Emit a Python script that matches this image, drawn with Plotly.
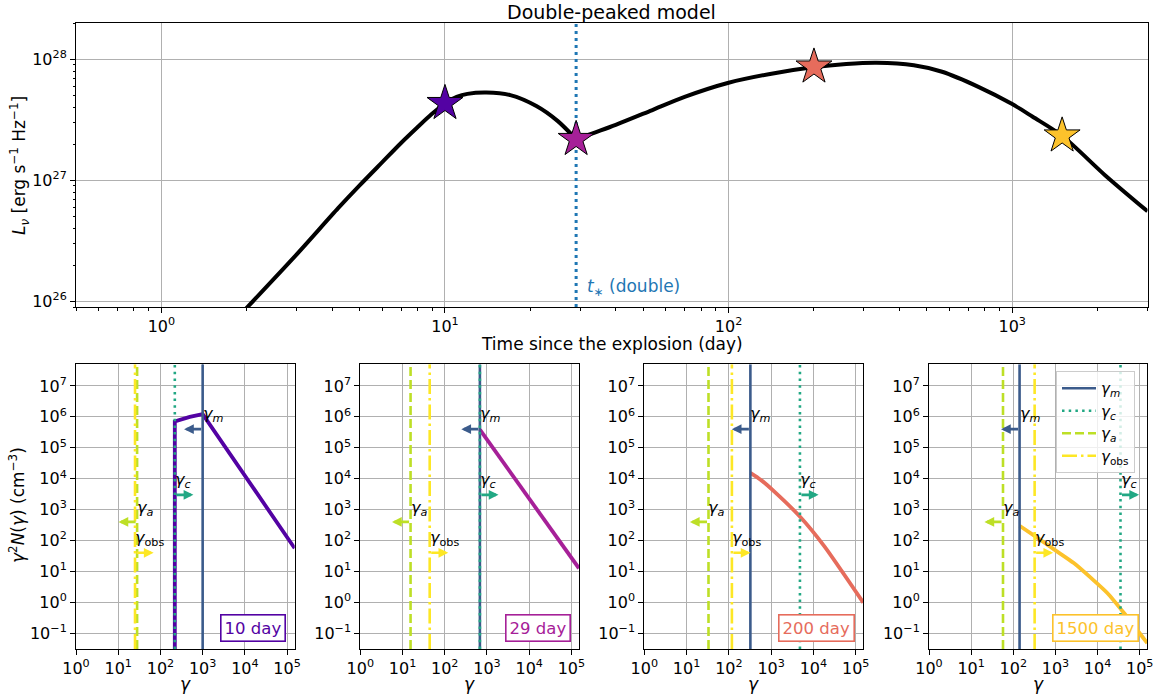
import numpy as np
import plotly.graph_objects as go

W, H = 1156, 698
FONT = "DejaVu Sans"

# ---------------- data: light curve (top panel) ----------------
t_first = [1.9, 3.0, 4.2, 5.0, 6.0, 7.0, 8.0, 9.0, 10.0, 11.0, 12.0, 14.0, 17.0, 21.0, 25.0, 29.0]
L_first = [7.8e25, 2.45e26, 5.9e26, 9.1e26, 1.41e27, 2.04e27, 2.75e27, 3.55e27, 4.34e27,
           4.9e27, 5.19e27, 5.33e27, 5.07e27, 4.12e27, 3.09e27, 2.19e27]
t_second = [29.0, 40.0, 53.6, 70.0, 100.0, 140.0, 198.0, 260.0, 333.0, 450.0, 566.0,
            760.0, 1000.0, 1181.0, 1500.0, 2130.0, 3000.0]
L_second = [2.19e27, 2.88e27, 3.80e27, 4.90e27, 6.41e27, 7.59e27, 8.61e27, 9.16e27, 9.38e27,
            8.95e27, 7.91e27, 5.94e27, 4.28e27, 3.36e27, 2.34e27, 1.10e27, 5.56e26]
t_star_double = 29.0

# epochs marked with stars
days = [10, 29, 200, 1500]
L_days = [4.34e27, 2.19e27, 8.69e27, 2.34e27]
day_colors = ["#5302a3", "#a62098", "#e66c5c", "#fcc22b"]

# characteristic Lorentz factors at each epoch
gamma_m = [1000, 680, 323, 141]
gamma_c = [219, 680, 4800, 35000]
gamma_a = [28, 15.5, 33, 57]
gamma_obs = [25, 44, 118, 321]

# electron distributions gamma^2 N(gamma)
dist_gamma = [
    [219, 219, 495, 1000, 1.51e5],
    [680, 1.51e5],
    [323, 562, 1175, 4900, 1.82e4, 1.51e5],
    [141, 398, 1000, 2730, 7080, 1.70e4, 4.23e4, 1.51e5],
]
dist_N = [
    [1e-2, 7.14e5, 9.93e5, 1.23e6, 56],
    [3.85e5, 12.6],
    [1.55e4, 9.3e3, 3.89e3, 575, 64.6, 0.98],
    [301, 115, 47.9, 18.6, 6.03, 2.0, 0.451, 0.0479],
]
dist_shape = ["linear", "linear", "spline", "spline"]

# ---------------- layout geometry ----------------
def px_x(p):
    return p / W

def px_y(p):
    return 1 - p / H

TOP_X = [px_x(76), px_x(1147.5)]
TOP_Y = [px_y(307), px_y(23)]
BOT_Y = [px_y(649), px_y(364.3)]
PANEL_X = [(76, 294.7), (360.3, 579), (644.3, 863.3), (929, 1147.3)]

TOP_XR = [float(np.log10(0.5)), float(np.log10(3000))]
TOP_YR = [float(np.log10(9.0e25)), float(np.log10(2.0e28))]
BOT_XR = [0, 5.18]
BOT_YR = [-1.51, 7.70]

C_M = "#3b5b8b"
C_C = "#22a884"
C_A = "#bddf26"
C_OBS = "#fde725"

fig = go.Figure()


def sup_label(k):
    s = str(k).replace("-", "\u2212")
    return f"10<sup>{s}</sup>"


def minor_vals(lo, hi):
    vals = []
    for k in range(lo, hi + 1):
        for m in range(2, 10):
            vals.append(m * 10.0 ** k)
    return vals


def base_axis(size=16, **kw):
    d = dict(type="log", showline=True, linecolor="black", linewidth=1, mirror=True,
             ticks="outside", ticklen=5, tickwidth=1, tickcolor="black", automargin=False,
             showgrid=True, gridcolor="#b0b0b0", gridwidth=1, zeroline=False,
             tickfont=dict(size=size, color="black", family=FONT))
    d.update(kw)
    return d


# ---------------- top panel ----------------
fig.add_trace(go.Scatter(x=t_first, y=L_first, mode="lines",
                         line=dict(color="black", width=4, shape="spline", smoothing=0.8),
                         showlegend=False, xaxis="x", yaxis="y"))
fig.add_trace(go.Scatter(x=t_second, y=L_second, mode="lines",
                         line=dict(color="black", width=4, shape="spline", smoothing=0.8),
                         showlegend=False, xaxis="x", yaxis="y"))
fig.add_trace(go.Scatter(x=[t_star_double, t_star_double], y=[10.0 ** TOP_YR[0], 10.0 ** TOP_YR[1]], mode="lines",
                         line=dict(color="#1f77b4", width=3, dash="3px,4px"), showlegend=False,
                         xaxis="x", yaxis="y"))
fig.add_trace(go.Scatter(x=days, y=L_days, mode="markers",
                         marker=dict(symbol="star", size=27, color=day_colors, line=dict(color="black", width=1)),
                         showlegend=False, xaxis="x", yaxis="y"))

layout = dict(
    width=W, height=H, margin=dict(l=0, r=0, t=0, b=0, autoexpand=False),
    paper_bgcolor="white", plot_bgcolor="white",
    font=dict(family=FONT, color="black"),
    xaxis=base_axis(domain=TOP_X, anchor="y", range=TOP_XR,
                    tickvals=[10.0 ** k for k in range(0, 4)], ticktext=[sup_label(k) for k in range(0, 4)],
                    minor=dict(tickvals=minor_vals(-1, 3), ticks="outside", ticklen=2.5, tickcolor="black",
                               showgrid=False)),
    yaxis=base_axis(domain=TOP_Y, anchor="x", range=TOP_YR,
                    tickvals=[10.0 ** k for k in range(26, 29)], ticktext=[sup_label(k) for k in range(26, 29)],
                    minor=dict(tickvals=minor_vals(25, 28), ticks="outside", ticklen=2.5, tickcolor="black",
                               showgrid=False)),
    showlegend=True,
    legend=dict(x=px_x(1056), y=px_y(371), xanchor="left", yanchor="top",
                bgcolor="rgba(255,255,255,0.8)", bordercolor="#cccccc", borderwidth=1,
                font=dict(size=15, family=FONT), itemwidth=34, tracegroupgap=0),
)

annotations = []
annotations.append(dict(text="Double-peaked model", x=px_x(611.5), y=px_y(12), xref="paper", yref="paper",
                        showarrow=False, xanchor="center", yanchor="middle", font=dict(size=19)))
annotations.append(dict(text="Time since the explosion (day)", x=px_x(611.5), y=px_y(344), xref="paper",
                        yref="paper", showarrow=False, xanchor="center", yanchor="middle", font=dict(size=17)))
annotations.append(dict(text="<i>L</i><sub><i>ν</i></sub> [erg s<sup>\u22121</sup> Hz<sup>\u22121</sup>]",
                        x=px_x(20), y=px_y(166), xref="paper", yref="paper", showarrow=False, textangle=-90,
                        xanchor="center", yanchor="middle", font=dict(size=17)))
annotations.append(dict(text="<i>t</i><sub>\u2217</sub> (double)", x=float(np.log10(t_star_double)), xref="x",
                        y=0.02, yref="y domain", xanchor="left", yanchor="bottom", xshift=9,
                        showarrow=False, font=dict(size=17, color="#1f77b4")))
annotations.append(dict(text="<i>γ</i><sup>2</sup><i>N</i>(<i>γ</i>) (cm<sup>\u22123</sup>)",
                        x=px_x(17), y=px_y(505), xref="paper", yref="paper", showarrow=False, textangle=-90,
                        xanchor="center", yanchor="middle", font=dict(size=17)))

Y_LO, Y_HI = 10.0 ** BOT_YR[0], 10.0 ** BOT_YR[1]
ARROW_DEC = 0.44

for i in range(4):
    n = i + 2
    xa, ya = f"x{n}", f"y{n}"
    x0, x1 = PANEL_X[i]
    layout[f"xaxis{n}"] = base_axis(domain=[px_x(x0), px_x(x1)], anchor=ya, range=BOT_XR,
                                    tickvals=[10.0 ** k for k in range(0, 6)],
                                    ticktext=[sup_label(k) for k in range(0, 6)])
    layout[f"yaxis{n}"] = base_axis(domain=BOT_Y, anchor=xa, range=BOT_YR,
                                    tickvals=[10.0 ** k for k in range(-1, 8)],
                                    ticktext=[sup_label(k) for k in range(-1, 8)])
    # distribution
    fig.add_trace(go.Scatter(x=dist_gamma[i], y=dist_N[i], mode="lines",
                             line=dict(color=day_colors[i], width=3.8, shape=dist_shape[i], smoothing=0.6),
                             showlegend=False, xaxis=xa, yaxis=ya))
    leg = (i == 3)
    specs = [
        (gamma_m[i], C_M, "solid", "<i>γ</i><sub><i>m</i></sub>"),
        (gamma_c[i], C_C, "2.5px,4.2px", "<i>γ</i><sub><i>c</i></sub>"),
        (gamma_a[i], C_A, "9px,4px", "<i>γ</i><sub><i>a</i></sub>"),
        (gamma_obs[i], C_OBS, "15px,4px,2.5px,4px", "<i>γ</i><sub>obs</sub>"),
    ]
    for g, c, dsh, name in specs:
        fig.add_trace(go.Scatter(x=[g, g], y=[Y_LO, Y_HI], mode="lines", name=name,
                                 line=dict(color=c, width=2.6, dash=dsh), showlegend=leg,
                                 xaxis=xa, yaxis=ya))
    # labels and arrows
    lab = [
        (gamma_m[i], 6.07, "<i>γ</i><sub><i>m</i></sub>"),
        (gamma_c[i], 3.93, "<i>γ</i><sub><i>c</i></sub>"),
        (gamma_a[i], 3.02, "<i>γ</i><sub><i>a</i></sub>"),
        (gamma_obs[i], 2.08, "<i>γ</i><sub>obs</sub>"),
    ]
    for g, ly, txt in lab:
        annotations.append(dict(text=txt, x=float(np.log10(g)), y=ly, xref=xa, yref=ya, xanchor="left",
                                yanchor="middle", xshift=-2, showarrow=False, font=dict(size=16)))
    arr = [
        (gamma_m[i], float(np.log10(4e5)), -1, C_M),
        (gamma_c[i], float(np.log10(3e3)), 1, C_C),
        (gamma_a[i], float(np.log10(4e2)), -1, C_A),
        (gamma_obs[i], float(np.log10(40)), 1, C_OBS),
    ]
    for g, ay, sgn, c in arr:
        lg = float(np.log10(g))
        annotations.append(dict(text="", x=lg + sgn * ARROW_DEC, y=ay, ax=lg, ay=ay,
                                xref=xa, yref=ya, axref=xa, ayref=ya, showarrow=True,
                                arrowhead=2, arrowsize=0.75, arrowwidth=2.6, arrowcolor=c,
                                standoff=0, startstandoff=0))
    # day label box
    annotations.append(dict(text=f"{days[i]} day", x=0.962, y=0.024, xref=f"{xa} domain", yref=f"{ya} domain",
                            xanchor="right", yanchor="bottom", showarrow=False,
                            font=dict(size=16.5, color=day_colors[i]), bgcolor="white",
                            bordercolor=day_colors[i], borderwidth=1.6, borderpad=3))
    # x title
    annotations.append(dict(text="<i>γ</i>", x=px_x((x0 + x1) / 2), y=px_y(684), xref="paper", yref="paper",
                            showarrow=False, xanchor="center", yanchor="middle", font=dict(size=17)))

layout["annotations"] = annotations
fig.update_layout(**layout)
fig.write_html("out.html", config={"displayModeBar": False},
               post_script="document.body.style.margin='0px';document.body.style.overflow='hidden';")
